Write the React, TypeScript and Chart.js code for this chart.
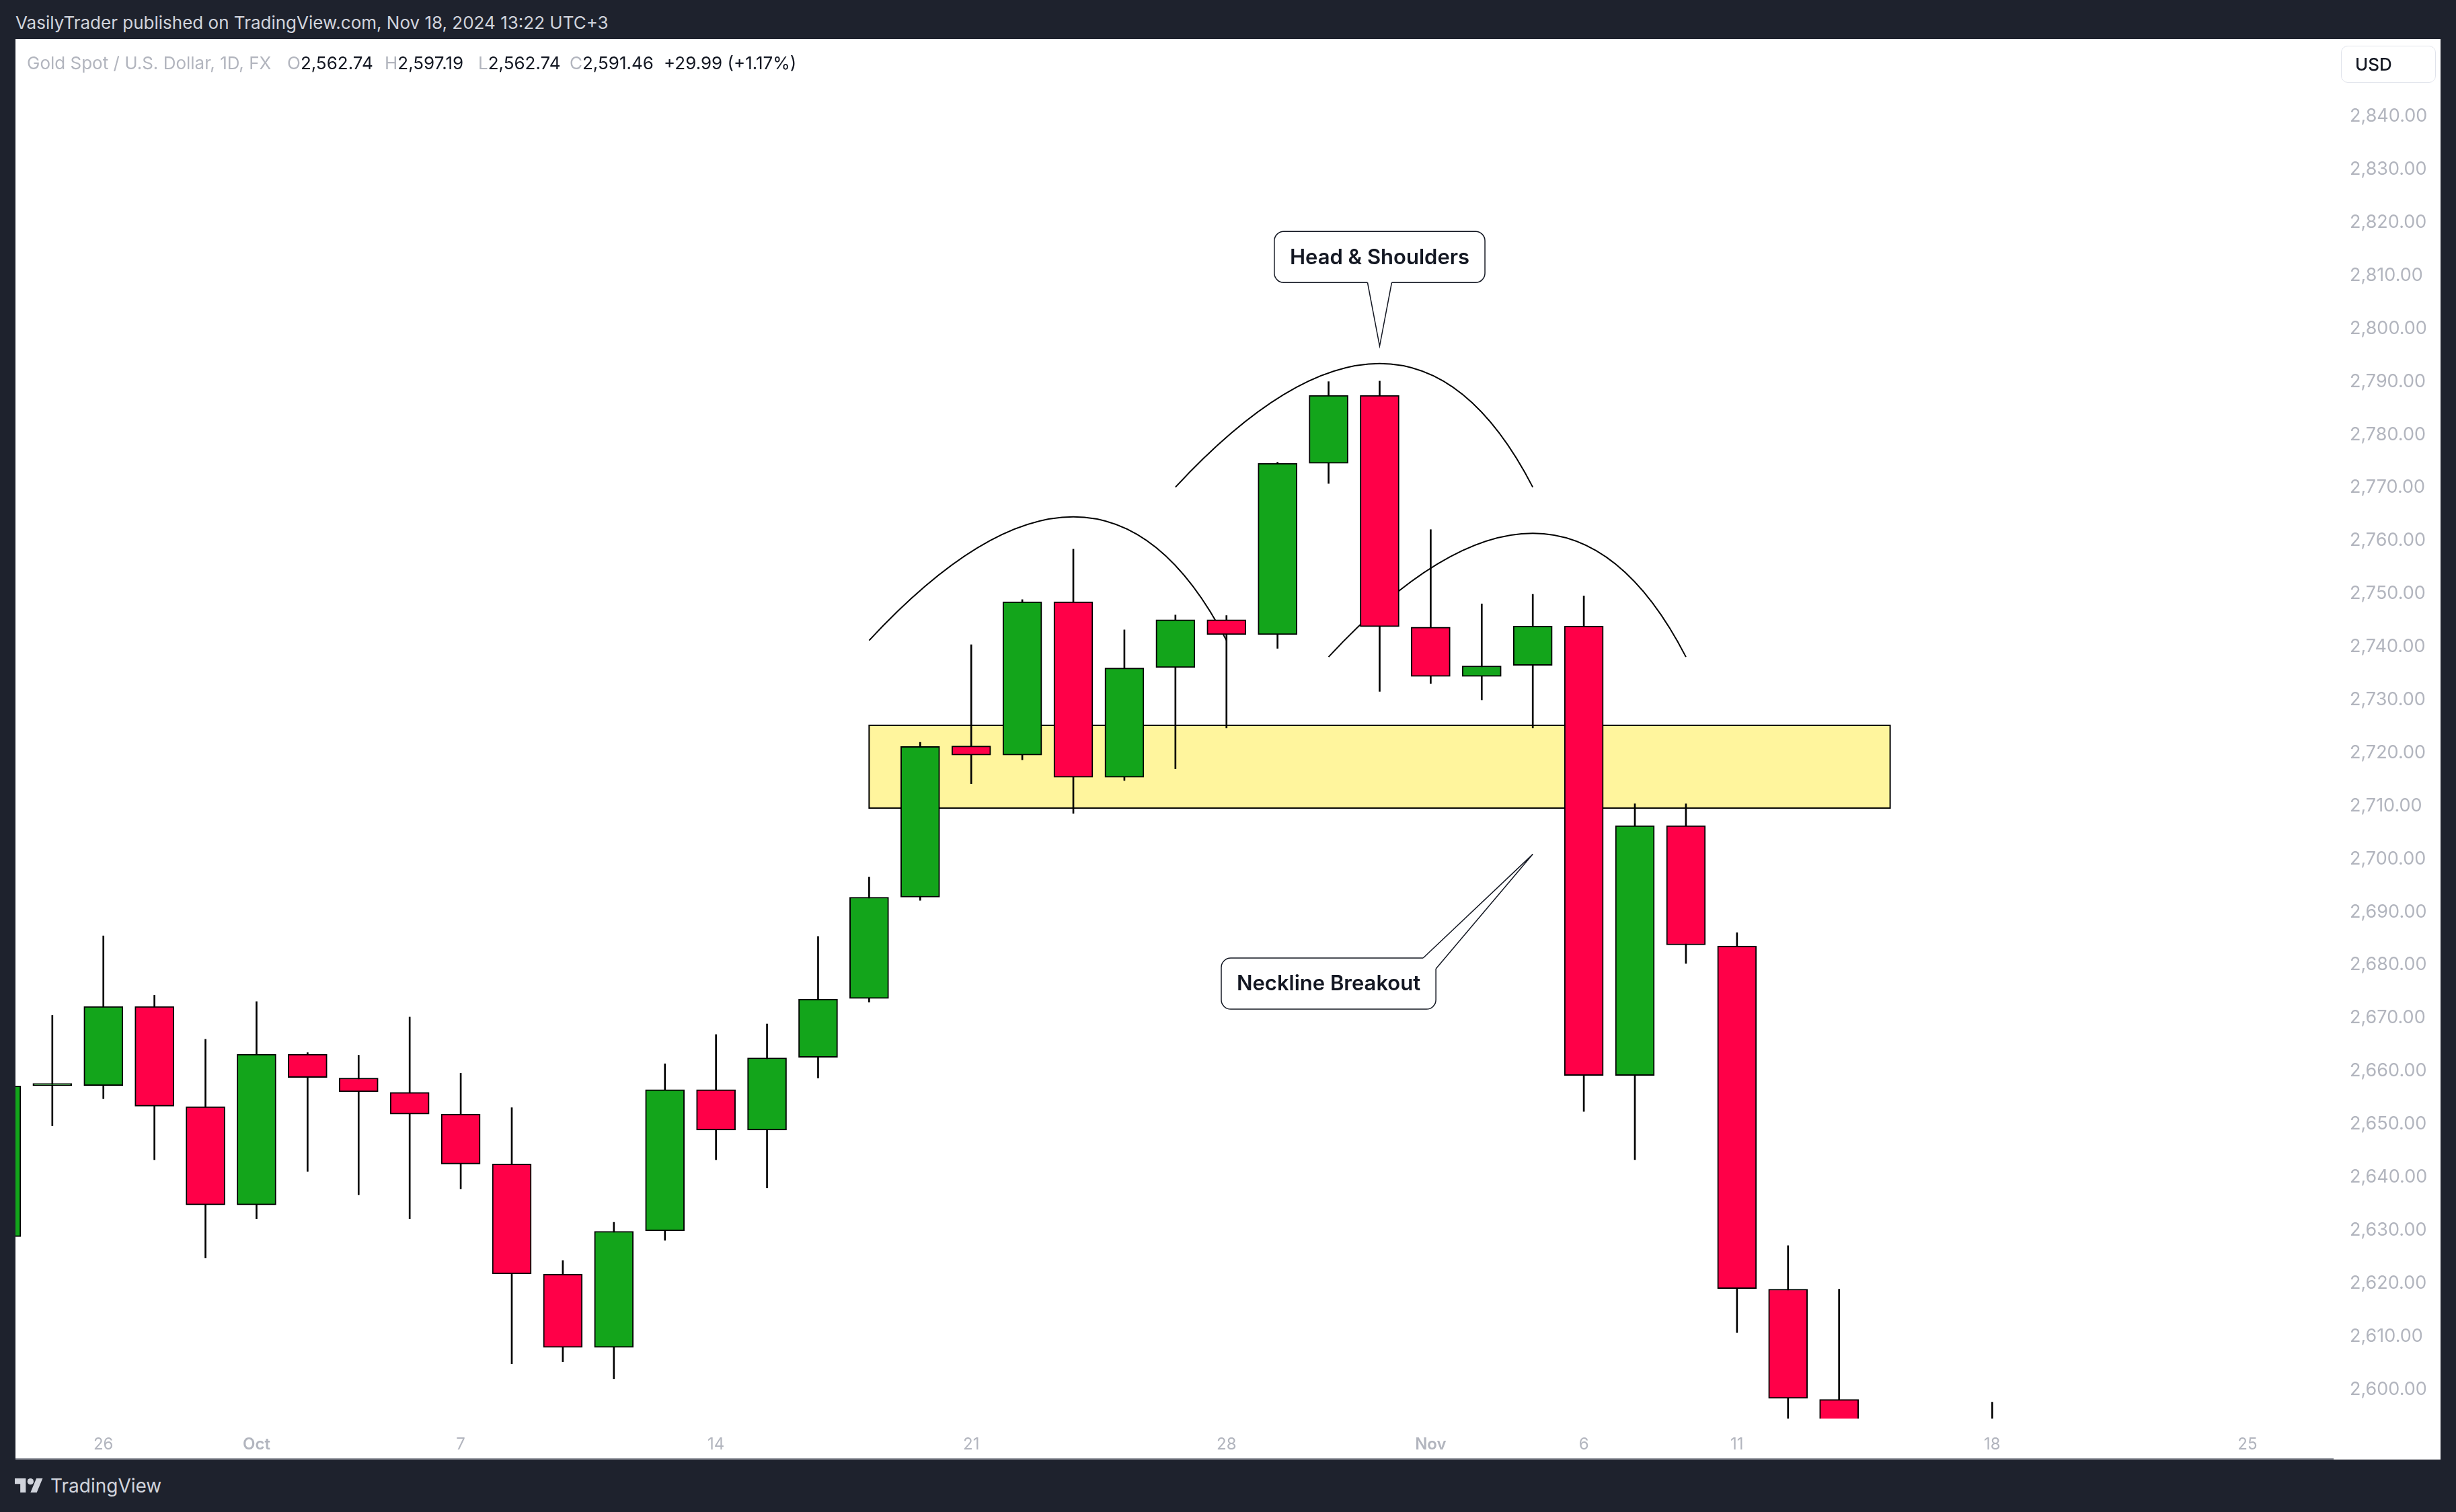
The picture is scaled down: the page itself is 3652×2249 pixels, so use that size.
import React, { useEffect, useRef } from 'react';
import { Chart, registerables } from 'chart.js';

Chart.register(...registerables);

// ---------------- data ----------------
const dates = [
  'Sep 24', 'Sep 25', 'Sep 26', 'Sep 27', 'Sep 30',
  'Oct 1', 'Oct 2', 'Oct 3', 'Oct 4', 'Oct 7', 'Oct 8', 'Oct 9', 'Oct 10', 'Oct 11',
  'Oct 14', 'Oct 15', 'Oct 16', 'Oct 17', 'Oct 18', 'Oct 21', 'Oct 22', 'Oct 23', 'Oct 24', 'Oct 25',
  'Oct 28', 'Oct 29', 'Oct 30', 'Oct 31', 'Nov 1', 'Nov 4', 'Nov 5', 'Nov 6', 'Nov 7', 'Nov 8',
  'Nov 11', 'Nov 12', 'Nov 13', 'Nov 14', 'Nov 15', 'Nov 18',
];
const opens = [
  2628.4, 2656.9, 2656.9, 2671.8, 2652.9,
  2634.4, 2662.8, 2658.3, 2655.6, 2651.5, 2642.1, 2621.3, 2607.5, 2629.5,
  2656.1, 2648.5, 2662.2, 2673.3, 2692.4, 2720.9, 2719.2, 2748.1, 2715.0, 2735.7,
  2744.7, 2741.9, 2774.2, 2787.0, 2743.3, 2734.0, 2736.1, 2743.5, 2658.8, 2705.9,
  2683.2, 2618.5, 2597.7, 2573.0, 2565.0, 2562.74,
];
const highs = [
  2664.0, 2670.1, 2685.1, 2673.9, 2665.6,
  2672.7, 2663.1, 2662.6, 2669.8, 2659.2, 2652.7, 2623.9, 2631.1, 2661.0,
  2666.5, 2668.5, 2685.0, 2696.2, 2721.6, 2740.0, 2748.5, 2758.0, 2742.8, 2745.6,
  2745.5, 2774.4, 2789.6, 2789.7, 2761.7, 2747.7, 2749.5, 2749.2, 2710.0, 2710.0,
  2685.7, 2626.7, 2618.5, 2576.0, 2579.0, 2597.19,
];
const lows = [
  2622.0, 2649.3, 2654.4, 2642.9, 2624.4,
  2631.8, 2640.7, 2636.3, 2631.8, 2637.4, 2604.4, 2604.8, 2601.6, 2627.7,
  2642.9, 2637.6, 2658.3, 2672.6, 2691.8, 2713.8, 2718.3, 2708.2, 2714.4, 2716.6,
  2724.3, 2739.3, 2770.4, 2731.2, 2732.7, 2729.6, 2724.3, 2652.0, 2642.9, 2679.9,
  2610.3, 2589.0, 2572.0, 2536.0, 2560.0, 2562.74,
];
const closes = [
  2656.8, 2656.9, 2671.8, 2653.0, 2634.4,
  2662.8, 2658.4, 2655.7, 2651.5, 2642.1, 2621.4, 2607.5, 2629.4, 2656.1,
  2648.5, 2662.1, 2673.2, 2692.4, 2720.8, 2719.2, 2748.1, 2715.0, 2735.6, 2744.7,
  2741.9, 2774.2, 2787.0, 2743.4, 2734.0, 2736.0, 2743.5, 2658.8, 2705.9, 2683.4,
  2618.6, 2597.9, 2573.0, 2565.0, 2562.7, 2591.46,
];

const xTickPositions = [2, 5, 9, 14, 19, 24, 28, 31, 34, 39, 44];
const xTickLabels = ['26', 'Oct', '7', '14', '21', '28', 'Nov', '6', '11', '18', '25'];
const monthLabels = ['Oct', 'Nov'];
const yTickValues = [
  2600, 2610, 2620, 2630, 2640, 2650, 2660, 2670, 2680, 2690, 2700, 2710, 2720,
  2730, 2740, 2750, 2760, 2770, 2780, 2790, 2800, 2810, 2820, 2830, 2840,
];

const zoneDates = ['Oct 17', 'Nov 14'];
const zoneValues = [2709.2, 2724.8];

const arcStartDates = ['Oct 17', 'Oct 25', 'Oct 30'];
const arcPeakDates = ['Oct 23', 'Oct 31', 'Nov 5'];
const arcEndDates = ['Oct 28', 'Nov 5', 'Nov 8'];
const arcBaseValues = [2740.8, 2769.7, 2737.7];
const arcPeakValues = [2764.1, 2793.0, 2761.0];

const calloutTexts = ['Head & Shoulders', 'Neckline Breakout'];
const calloutBoxDates = ['Oct 31', 'Oct 30'];
const calloutBoxValues = [2813.1, 2676.1];
const calloutTipDates = ['Oct 31', 'Nov 5'];
const calloutTipValues = [2796.3, 2700.5];

const legendTitle = 'Gold Spot / U.S. Dollar, 1D, FX';
const legendKeys = ['O', 'H', 'L', 'C'];
const legendValues = ['2,562.74', '2,597.19', '2,562.74', '2,591.46'];
const legendChange = '+29.99 (+1.17%)';

const X_MIN = 0.278;
const X_MAX = 45.687;
const Y_MIN = 2594.1;
const Y_MAX = 2854.2;

// ---------------- style ----------------
const UP = '#13a51b';
const DOWN = '#ff0048';
const FONT = 'Inter, "Noto Sans", sans-serif';
const at = (d: string) => dates.indexOf(d);

function drawCallout(ctx: CanvasRenderingContext2D, text: string, bx: number, by: number, tx: number, ty: number) {
  ctx.save();
  ctx.font = `600 31px ${FONT}`;
  const tw = ctx.measureText(text).width;
  const w = tw + 46;
  const h = 76;
  const r = 14;
  const left = bx - w / 2;
  const top = by - h / 2;
  const right = left + w;
  const bottom = top + h;
  ctx.fillStyle = '#ffffff';
  ctx.strokeStyle = '#131722';
  ctx.lineWidth = 1.5;
  ctx.beginPath();
  ctx.moveTo(left + r, top);
  ctx.lineTo(right - r, top);
  ctx.arcTo(right, top, right, top + r, r);
  ctx.lineTo(right, bottom - r);
  ctx.arcTo(right, bottom, right - r, bottom, r);
  ctx.lineTo(left + r, bottom);
  ctx.arcTo(left, bottom, left, bottom - r, r);
  ctx.lineTo(left, top + r);
  ctx.arcTo(left, top, left + r, top, r);
  ctx.closePath();
  ctx.fill();
  ctx.stroke();

  let b1: number[];
  let b2: number[];
  let inner: number[][];
  if (tx >= left && tx <= right) {
    const edge = ty > bottom ? bottom : top;
    const s = ty > bottom ? -1 : 1;
    b1 = [tx - 18, edge];
    b2 = [tx + 18, edge];
    inner = [[tx + 18, edge + s * 4], [tx - 18, edge + s * 4]];
  } else {
    const cx = tx > right ? right : left;
    const cy = ty < top ? top : bottom;
    const sx = tx > right ? -1 : 1;
    const sy = ty < top ? 1 : -1;
    b1 = [cx + sx * 19, cy];
    b2 = [cx, cy + sy * 16];
    inner = [[cx + sx * 19, cy + sy * 16]];
  }
  ctx.beginPath();
  ctx.moveTo(b1[0], b1[1]);
  ctx.lineTo(tx, ty);
  ctx.lineTo(b2[0], b2[1]);
  inner.forEach((p) => ctx.lineTo(p[0], p[1]));
  ctx.closePath();
  ctx.fill();
  ctx.beginPath();
  ctx.moveTo(b1[0], b1[1]);
  ctx.lineTo(tx, ty);
  ctx.lineTo(b2[0], b2[1]);
  ctx.stroke();

  ctx.fillStyle = '#131722';
  ctx.textAlign = 'center';
  ctx.textBaseline = 'middle';
  ctx.fillText(text, bx, by + 1);
  ctx.restore();
}

const overlayPlugin = {
  id: 'overlay',
  beforeDatasetsDraw(chart: any) {
    const { ctx, chartArea, scales } = chart;
    const x = scales.x;
    const y = scales.y;
    ctx.save();
    ctx.beginPath();
    ctx.rect(chartArea.left, chartArea.top, chartArea.right - chartArea.left, chartArea.bottom - chartArea.top);
    ctx.clip();
    // support / neckline zone
    const x0 = x.getPixelForValue(at(zoneDates[0]));
    const x1 = x.getPixelForValue(at(zoneDates[1]));
    const y0 = y.getPixelForValue(zoneValues[1]);
    const y1 = y.getPixelForValue(zoneValues[0]);
    ctx.fillStyle = '#fff59d';
    ctx.fillRect(x0, y0, x1 - x0, y1 - y0);
    ctx.lineWidth = 2;
    ctx.strokeStyle = '#000000';
    ctx.strokeRect(x0, y0, x1 - x0, y1 - y0);
    // arcs
    ctx.lineWidth = 2;
    for (let i = 0; i < arcStartDates.length; i++) {
      const sx = x.getPixelForValue(at(arcStartDates[i]));
      const ex = x.getPixelForValue(at(arcEndDates[i]));
      const px = x.getPixelForValue(at(arcPeakDates[i]));
      const by = y.getPixelForValue(arcBaseValues[i]);
      const py = y.getPixelForValue(arcPeakValues[i]);
      const cx = 2 * px - (sx + ex) / 2;
      const cy = 2 * py - by;
      ctx.beginPath();
      ctx.moveTo(sx, by);
      ctx.quadraticCurveTo(cx, cy, ex, by);
      ctx.stroke();
    }
    ctx.restore();
  },
  afterDatasetsDraw(chart: any) {
    const { ctx, scales } = chart;
    const x = scales.x;
    const y = scales.y;
    for (let i = 0; i < calloutTexts.length; i++) {
      drawCallout(
        ctx,
        calloutTexts[i],
        x.getPixelForValue(at(calloutBoxDates[i])),
        y.getPixelForValue(calloutBoxValues[i]),
        x.getPixelForValue(at(calloutTipDates[i])),
        y.getPixelForValue(calloutTipValues[i]),
      );
    }
  },
};

const PANEL_W = 3606;
const PANEL_H = 2113;

export default function App() {
  const ref = useRef<HTMLCanvasElement>(null);

  useEffect(() => {
    document.body.style.margin = '0';
    document.body.style.overflow = 'hidden';
    const canvas = ref.current;
    if (!canvas) return;
    const chart = new Chart(canvas, {
      type: 'bar',
      data: {
        datasets: [
          {
            label: 'wicks',
            data: dates.map((_, i) => ({ x: i, y: [lows[i], highs[i]] })) as any,
            backgroundColor: '#000000',
            borderWidth: 0,
            barThickness: 2,
            grouped: false,
            order: 2,
            clip: 0,
          } as any,
          {
            label: 'bodies',
            data: dates.map((_, i) => ({ x: i, y: [opens[i], closes[i]] })) as any,
            backgroundColor: dates.map((_, i) => (closes[i] >= opens[i] ? UP : DOWN)),
            borderColor: '#000000',
            borderWidth: 2,
            borderSkipped: false,
            barThickness: 58,
            minBarLength: 3,
            grouped: false,
            order: 1,
            clip: 0,
          } as any,
        ],
      },
      options: {
        animation: false,
        responsive: false,
        devicePixelRatio: 1,
        events: [],
        layout: { padding: 0 },
        plugins: { legend: { display: false }, tooltip: { enabled: false } },
        scales: {
          x: {
            type: 'linear',
            position: 'bottom',
            min: X_MIN,
            max: X_MAX,
            offset: false,
            grid: { display: false, drawTicks: false },
            border: { display: false },
            afterBuildTicks: (s: any) => {
              s.ticks = xTickPositions.map((v) => ({ value: v }));
            },
            afterFit: (s: any) => {
              s.height = 61;
              s.paddingLeft = 0;
              s.paddingRight = 0;
            },
            ticks: {
              autoSkip: false,
              maxRotation: 0,
              minRotation: 0,
              padding: 24,
              color: '#b2b5be',
              font: (c: any) => ({
                family: FONT,
                size: 24,
                weight: monthLabels.includes(xTickLabels[c.index]) ? '600' : '400',
              }),
              callback: (v: any) => {
                const k = xTickPositions.indexOf(Number(v));
                return k >= 0 ? xTickLabels[k] : '';
              },
            },
          } as any,
          y: {
            type: 'linear',
            position: 'right',
            min: Y_MIN,
            max: Y_MAX,
            grid: { display: false, drawTicks: false },
            border: { display: false },
            afterBuildTicks: (s: any) => {
              s.ticks = yTickValues.map((v) => ({ value: v }));
            },
            afterFit: (s: any) => {
              s.width = 159;
              s.paddingTop = 0;
              s.paddingBottom = 0;
            },
            ticks: {
              autoSkip: false,
              padding: 24,
              labelOffset: 3,
              color: '#b2b5be',
              font: { family: FONT, size: 27 },
              callback: (v: any) =>
                Number(v).toLocaleString('en-US', { minimumFractionDigits: 2, maximumFractionDigits: 2 }),
            },
          } as any,
        },
      },
      plugins: [overlayPlugin],
    } as any);
    return () => chart.destroy();
  }, []);

  const legendX = [404, 549, 688, 824];
  const legendFont = 26;

  return (
    <div
      style={{
        position: 'absolute',
        left: 0,
        top: 0,
        width: 3652,
        height: 2249,
        background: '#1e222d',
        overflow: 'hidden',
        fontFamily: FONT,
      }}
    >
      <div
        style={{
          position: 'absolute',
          left: 23,
          top: 21,
          fontSize: 26,
          lineHeight: '26px',
          color: '#d1d4dc',
          whiteSpace: 'nowrap',
        }}
      >
        VasilyTrader published on TradingView.com, Nov 18, 2024 13:22 UTC+3
      </div>

      <div
        style={{
          position: 'absolute',
          left: 23,
          top: 58,
          width: PANEL_W,
          height: PANEL_H,
          background: '#ffffff',
        }}
      >
        <canvas
          ref={ref}
          width={PANEL_W}
          height={PANEL_H}
          style={{ position: 'absolute', left: 0, top: 0, width: PANEL_W, height: PANEL_H }}
        />
        <div
          style={{
            position: 'absolute',
            left: 0,
            top: PANEL_H - 2,
            width: 3447,
            height: 2,
            background: '#9598a1',
          }}
        />
        <div
          style={{
            position: 'absolute',
            left: 17,
            top: 36 - legendFont / 2,
            fontSize: legendFont,
            lineHeight: `${legendFont}px`,
            color: '#b2b5be',
            whiteSpace: 'nowrap',
          }}
        >
          {legendTitle}
        </div>
        {legendKeys.map((k, i) => (
          <div
            key={k}
            style={{
              position: 'absolute',
              left: legendX[i],
              top: 36 - legendFont / 2,
              fontSize: legendFont,
              lineHeight: `${legendFont}px`,
              whiteSpace: 'nowrap',
            }}
          >
            <span style={{ color: '#b2b5be' }}>{k}</span>
            <span style={{ color: '#131722' }}>{legendValues[i]}</span>
          </div>
        ))}
        <div
          style={{
            position: 'absolute',
            left: 964,
            top: 36 - legendFont / 2,
            fontSize: legendFont,
            lineHeight: `${legendFont}px`,
            color: '#131722',
            whiteSpace: 'nowrap',
          }}
        >
          {legendChange}
        </div>
        <div
          style={{
            position: 'absolute',
            left: 3458,
            top: 10,
            width: 141,
            height: 55,
            boxSizing: 'border-box',
            border: '1px solid #e0e3eb',
            borderRadius: 10,
            paddingLeft: 20,
            fontSize: 26,
            fontWeight: 500,
            lineHeight: '53px',
            color: '#131722',
          }}
        >
          USD
        </div>
      </div>

      <svg
        width={42}
        height={21}
        viewBox="0 4 36 18"
        style={{ position: 'absolute', left: 22, top: 2199 }}
      >
        <path d="M14 22H7V11H0V4h14v18z" fill="#d1d4dc" />
        <circle cx="20" cy="8" r="4" fill="#d1d4dc" />
        <path d="M28 22h-8l7.5-18h8L28 22z" fill="#d1d4dc" />
      </svg>
      <div
        style={{
          position: 'absolute',
          left: 75,
          top: 2196,
          fontSize: 28,
          lineHeight: '28px',
          color: '#d1d4dc',
          whiteSpace: 'nowrap',
        }}
      >
        TradingView
      </div>
    </div>
  );
}
